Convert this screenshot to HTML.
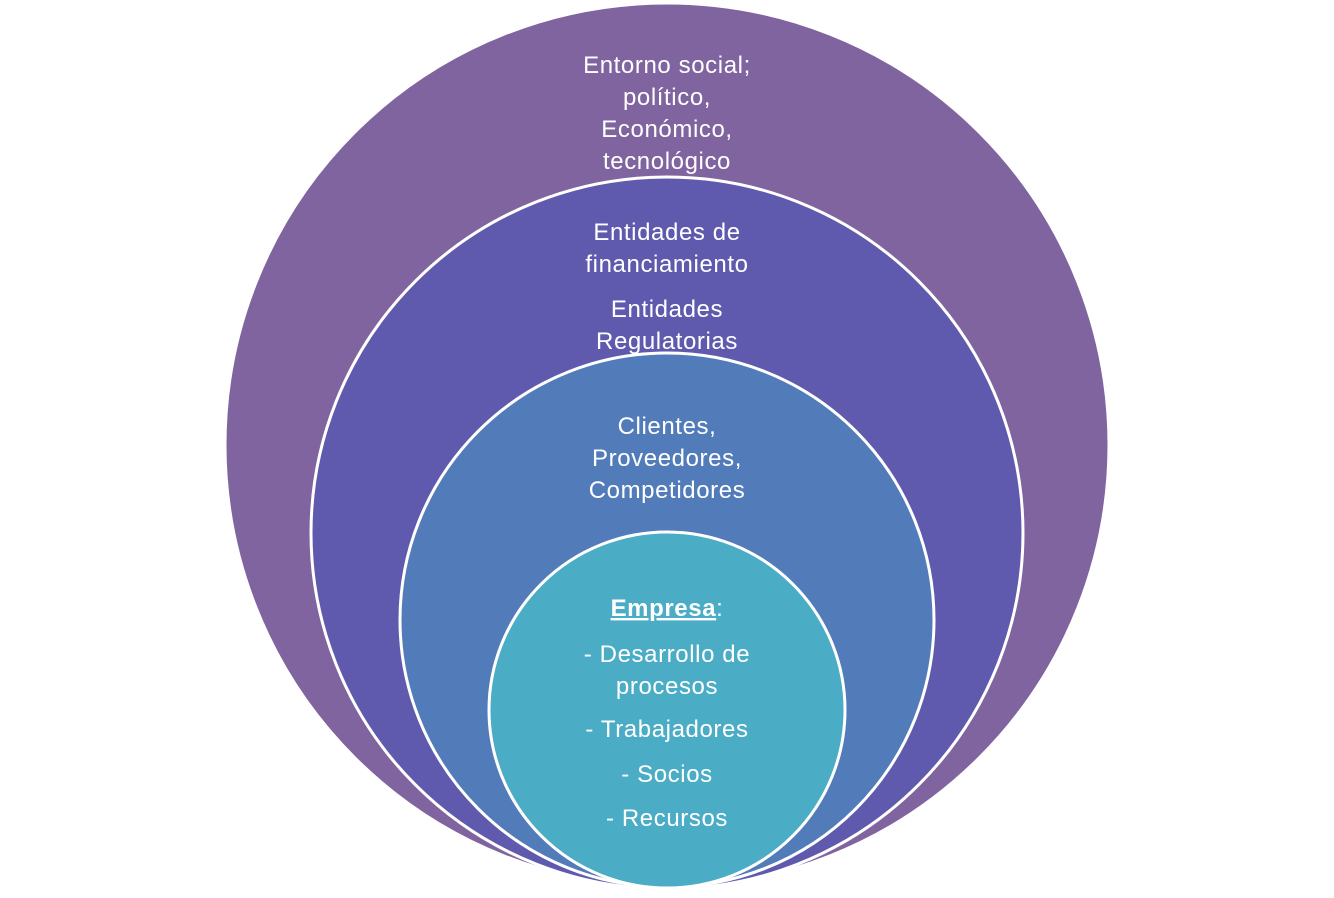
<!DOCTYPE html>
<html><head><meta charset="utf-8"><style>
html,body{margin:0;padding:0;background:#fff;}
svg text{font-family:"Liberation Sans",sans-serif;font-size:24px;letter-spacing:0.6px;fill:#fff;text-anchor:middle;}
</style></head><body>
<svg width="1334" height="893" viewBox="0 0 1334 893" xmlns="http://www.w3.org/2000/svg">
<circle cx="667" cy="445" r="442" fill="#8064A0" stroke="#fff" stroke-width="3"/>
<circle cx="667" cy="533" r="356" fill="#5F5AAE" stroke="#fff" stroke-width="3"/>
<circle cx="667" cy="620" r="267" fill="#527BBA" stroke="#fff" stroke-width="3"/>
<circle cx="667" cy="710" r="178" fill="#4BACC6" stroke="#fff" stroke-width="3"/>
<text x="667" y="73">Entorno social;</text>
<text x="667" y="105">político,</text>
<text x="667" y="137">Económico,</text>
<text x="667" y="169">tecnológico</text>
<text x="667" y="240">Entidades de</text>
<text x="667" y="272">financiamiento</text>
<text x="667" y="317">Entidades</text>
<text x="667" y="349">Regulatorias</text>
<text x="667" y="434">Clientes,</text>
<text x="667" y="466">Proveedores,</text>
<text x="667" y="498">Competidores</text>
<text x="667" y="616"><tspan font-weight="bold" text-decoration="underline">Empresa</tspan>:</text>
<text x="667" y="662">- Desarrollo de</text>
<text x="667" y="694">procesos</text>
<text x="667" y="737">- Trabajadores</text>
<text x="667" y="782">- Socios</text>
<text x="667" y="826">- Recursos</text>
</svg>
</body></html>
